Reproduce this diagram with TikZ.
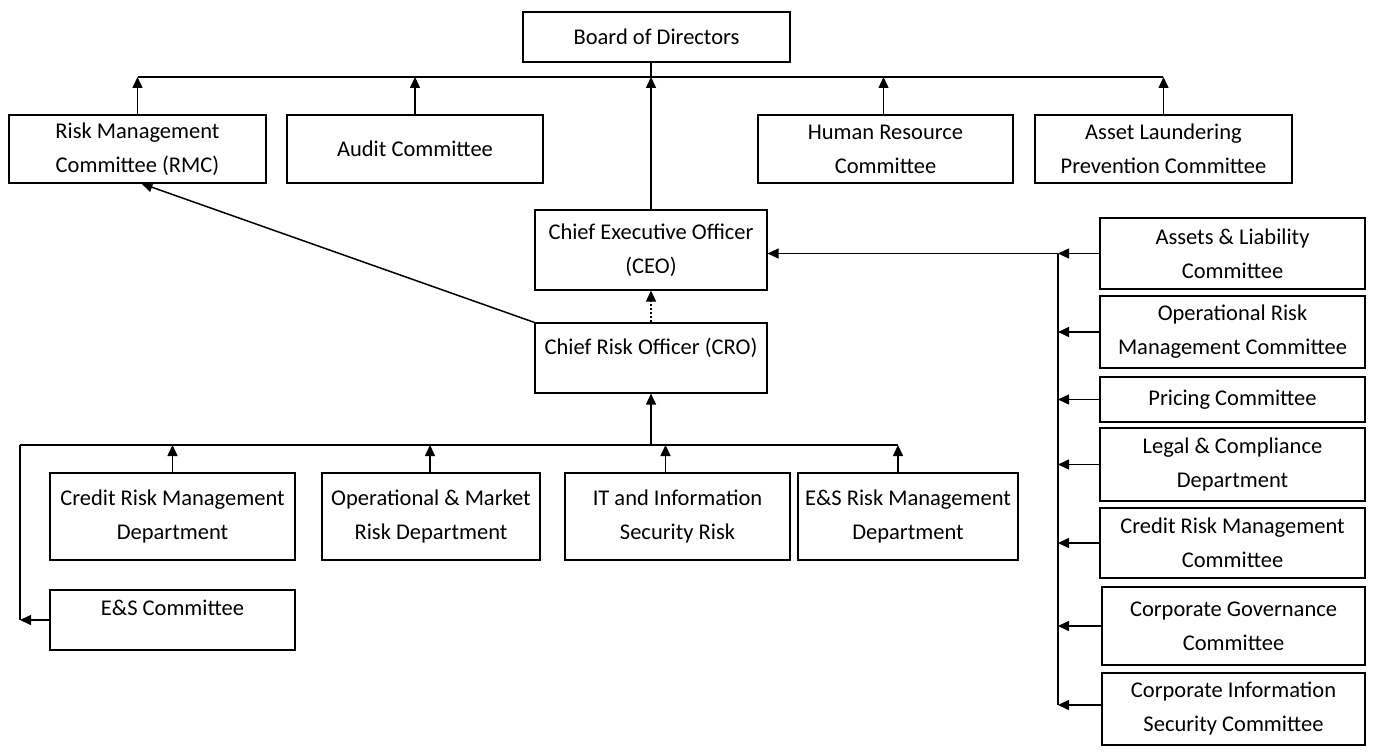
\documentclass[tikz,border=0pt]{standalone}
\usepackage{fontspec}
\setmainfont{Carlito}
\usetikzlibrary{arrows.meta}

\begin{document}
\begin{tikzpicture}[x=1pt, y=-1pt,
    box/.style={draw, line width=1.1pt, align=center, inner sep=0pt,
      font=\fontsize{22.5}{34}\selectfont},
    arr/.style={-{Triangle[length=11pt,width=10pt]}, line width=1.5pt},
    link/.style={line width=1.5pt}]
    \useasboundingbox (0,0) rectangle (1383,754);

    % Board and committees
    \node[box, minimum width=267pt, minimum height=50pt] (board) at (656.5,37) {Board of Directors};
    \node[box, minimum width=257pt, minimum height=68pt] (rmc) at (137.5,149) {Risk Management\\Committee (RMC)};
    \node[box, minimum width=256pt, minimum height=68pt] (audit) at (415,149) {Audit Committee};
    \node[box, minimum width=255pt, minimum height=68pt] (hrc) at (885.5,149) {Human Resource\\Committee};
    \node[box, minimum width=257pt, minimum height=68pt] (alpc) at (1163.5,149) {Asset Laundering\\Prevention Committee};

    % CEO and CRO
    \node[box, minimum width=232pt, minimum height=80pt] (ceo) at (651,250) {Chief Executive Officer\\(CEO)};
    \node[box, minimum width=232pt, minimum height=70pt] (cro) at (651,358) {Chief Risk Officer (CRO)\\[-20pt]\strut};

    % Risk departments
    \node[box, minimum width=245pt, minimum height=87pt] (crmd) at (172.5,516.5) {Credit Risk Management\\Department};
    \node[box, minimum width=218pt, minimum height=87pt] (omrd) at (431,516.5) {Operational \& Market\\Risk Department};
    \node[box, minimum width=225pt, minimum height=87pt] (itsr) at (677.5,516.5) {IT and Information\\Security Risk};
    \node[box, minimum width=220pt, minimum height=87pt] (esrm) at (908,516.5) {E\&S Risk Management\\Department};
    \node[box, minimum width=245pt, minimum height=60pt] (esc) at (172.5,620) {E\&S Committee\\[-20pt]\strut};

    % Management committees
    \node[box, minimum width=265pt, minimum height=71pt] (alc) at (1232.5,253.5) {Assets \& Liability\\Committee};
    \node[box, minimum width=265pt, minimum height=72pt] (ormc) at (1232.5,332) {Operational Risk\\Management Committee};
    \node[box, minimum width=265pt, minimum height=45pt] (pc) at (1232.5,399.5) {Pricing Committee};
    \node[box, minimum width=265pt, minimum height=73pt] (lcd) at (1232.5,464.5) {Legal \& Compliance\\Department};
    \node[box, minimum width=265pt, minimum height=70pt] (crmc) at (1232.5,543) {Credit Risk Management\\Committee};
    \node[box, minimum width=263pt, minimum height=78pt] (cgc) at (1233.5,626) {Corporate Governance\\Committee};
    \node[box, minimum width=263pt, minimum height=72pt] (cisc) at (1233.5,709) {Corporate Information\\Security Committee};

    % Bus lines
    \coordinate (tb) at (0,77);
    \coordinate (bb) at (0,445);
    \coordinate (lb) at (20,0);
    \coordinate (rb) at (1058,0);

    % Reporting to the board
    \draw[link] (board.south -| ceo.north) -- (ceo.north |- tb);
    \draw[link] (rmc.north |- tb) -- ([xshift=-1pt]alpc.north |- tb);
    \foreach \n in {rmc, audit, alpc}
      \draw[arr] (\n.north) -- (\n.north |- tb);
    \draw[arr] ([xshift=-2pt]hrc.north) -- ([xshift=-2pt]hrc.north |- tb);
    \draw[arr] (ceo.north) -- (ceo.north |- tb);

    % CRO links
    \draw[arr, dash pattern=on 2pt off 2pt] (cro.north) -- (ceo.south);
    \draw[arr] (cro.north west) -- ([xshift=4pt]rmc.south);
    \draw[arr] (cro.south |- bb) -- (cro.south);

    % Departments to CRO
    \draw[link] (lb |- bb) -- ([xshift=-10pt]esrm.north |- bb);
    \draw[arr] (crmd.north) -- (crmd.north |- bb);
    \draw[arr] ([xshift=-1pt]omrd.north) -- ([xshift=-1pt]omrd.north |- bb);
    \draw[arr] ([xshift=-12pt]itsr.north) -- ([xshift=-12pt]itsr.north |- bb);
    \draw[arr] ([xshift=-10pt]esrm.north) -- ([xshift=-10pt]esrm.north |- bb);
    \draw[link] (lb |- bb) -- (lb |- esc.west);
    \draw[arr] (esc.west) -- (esc.west -| lb);

    % Committees to CEO
    \draw[link] (alc.west -| rb) -- ([yshift=4pt]cisc.west -| rb);
    \foreach \n in {alc, ormc, pc, lcd, crmc, cgc}
      \draw[arr] (\n.west) -- (\n.west -| rb);
    \draw[arr] ([yshift=4pt]cisc.west) -- ([yshift=4pt]cisc.west -| rb);
    \draw[arr] (alc.west -| rb) -- (ceo.east |- alc.west);
\end{tikzpicture}
\end{document}
